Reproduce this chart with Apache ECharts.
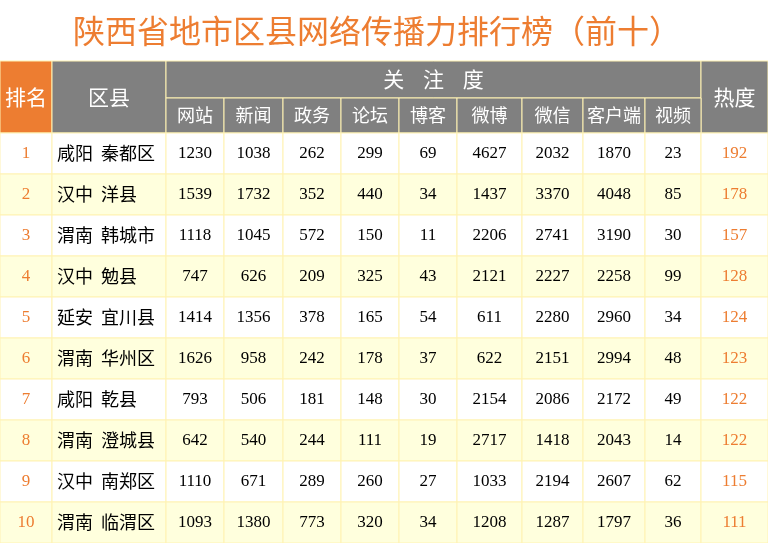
<!DOCTYPE html>
<html><head><meta charset="utf-8">
<script src="https://cdn.jsdelivr.net/npm/echarts@6/dist/echarts.min.js"></script>
<style>html,body{margin:0;padding:0;background:#fff}#c{width:768px;height:543px}</style>
</head><body><div id="c"></div>
<script>
const title = '陕西省地市区县网络传播力排行榜（前十）';
const subHeaders = ['网站','新闻','政务','论坛','博客','微博','微信','客户端','视频'];
const ranks = [1,2,3,4,5,6,7,8,9,10];
const districts = ['咸阳  秦都区','汉中  洋县','渭南  韩城市','汉中  勉县','延安  宜川县','渭南  华州区','咸阳  乾县','渭南  澄城县','汉中  南郑区','渭南  临渭区'];
const website = [1230,1539,1118,747,1414,1626,793,642,1110,1093];
const news = [1038,1732,1045,626,1356,958,506,540,671,1380];
const gov = [262,352,572,209,378,242,181,244,289,773];
const forum = [299,440,150,325,165,178,148,111,260,320];
const blog = [69,34,11,43,54,37,30,19,27,34];
const weibo = [4627,1437,2206,2121,611,622,2154,2717,1033,1208];
const wechat = [2032,3370,2741,2227,2280,2151,2086,1418,2194,1287];
const client = [1870,4048,3190,2258,2960,2994,2172,2043,2607,1797];
const video = [23,85,30,99,34,48,49,14,62,36];
const heat = [192,178,157,128,124,123,122,122,115,111];

const cols = [0,52,166,224,283,341,399,457,522,583,645,701,768];
const yTop = 61, yMid = 98, yData = 133, rowH = 41;
const GRAY = '#808080', ORANGE = '#ED7D31', BORDER = '#FFF2B3', ALT = '#FFFFDD';
const cjk = '"Noto Sans CJK SC", sans-serif';
const num = '"Liberation Serif", serif';
const els = [];
function rect(x,y,w,h,fill){els.push({type:'rect',shape:{x,y,width:w,height:h},style:{fill,stroke:BORDER,lineWidth:1}});}
function text(x,y,t,color,size,font,align){els.push({type:'text',x,y,style:{text:String(t),fill:color,font:size+'px '+font,align:align||'center',verticalAlign:'middle'}});}
els.push({type:'text',x:377,y:31,style:{text:title,fill:ORANGE,font:'32px '+cjk,align:'center',verticalAlign:'middle'}});
rect(cols[0],yTop,cols[1]-cols[0],yData-yTop,ORANGE);
text((cols[0]+cols[1])/2,(yTop+yData)/2,'排名','#fff',21,cjk);
rect(cols[1],yTop,cols[2]-cols[1],yData-yTop,GRAY);
text((cols[1]+cols[2])/2,(yTop+yData)/2,'区县','#fff',21,cjk);
rect(cols[2],yTop,cols[11]-cols[2],yMid-yTop,GRAY);
text((cols[2]+cols[11])/2,(yTop+yMid)/2,'关    注    度','#fff',21,cjk);
rect(cols[11],yTop,cols[12]-cols[11],yData-yTop,GRAY);
text((cols[11]+cols[12])/2,(yTop+yData)/2,'热度','#fff',21,cjk);
subHeaders.forEach((s,i)=>{rect(cols[2+i],yMid,cols[3+i]-cols[2+i],yData-yMid,GRAY);text((cols[2+i]+cols[3+i])/2,(yMid+yData)/2,s,'#fff',18,cjk);});
const metrics=[website,news,gov,forum,blog,weibo,wechat,client,video];
ranks.forEach((r,i)=>{
  const y=yData+i*rowH, cy=y+rowH/2, bg=i%2?ALT:'#fff';
  for(let c=0;c<12;c++) rect(cols[c],y,cols[c+1]-cols[c],rowH,bg);
  text((cols[0]+cols[1])/2,cy,r,ORANGE,17,num);
  text(cols[1]+5,cy,districts[i],'#000',18,cjk,'left');
  metrics.forEach((m,k)=>text((cols[2+k]+cols[3+k])/2,cy,m[i],'#000',17,num));
  text((cols[11]+cols[12])/2,cy,heat[i],ORANGE,17,num);
});
const chart=echarts.init(document.getElementById('c'));
chart.setOption({animation:false,graphic:{elements:els}});
</script></body></html>
